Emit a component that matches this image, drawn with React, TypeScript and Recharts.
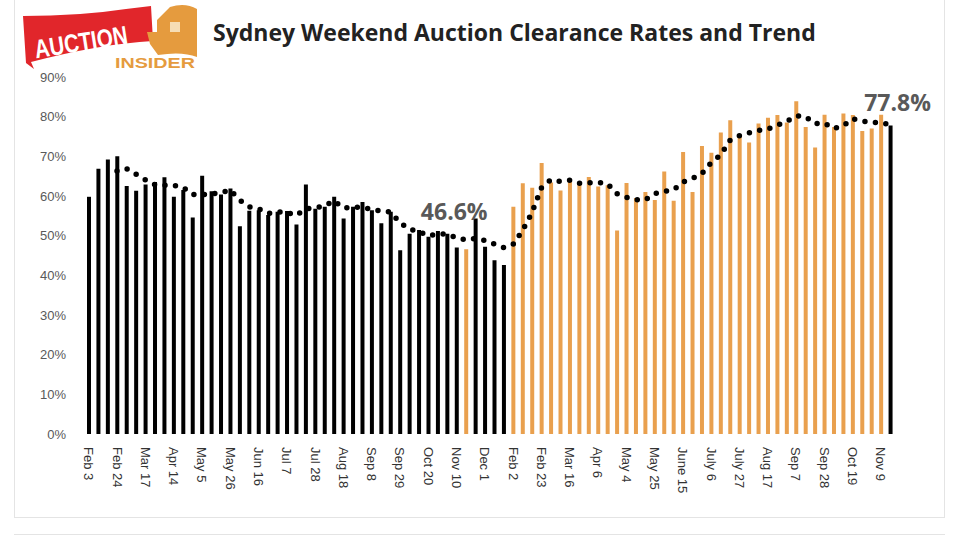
import React from 'react';
import { ComposedChart, Bar, Line, XAxis, YAxis, Cell, LabelList } from 'recharts';

// weekly result dates (two periods, Christmas/January break skipped)
const weeks = [
  'Feb 3', 'Feb 10', 'Feb 17', 'Feb 24', 'Mar 3', 'Mar 10', 'Mar 17', 'Mar 24', 'Apr 7', 'Apr 14',
  'Apr 21', 'Apr 28', 'May 5', 'May 12', 'May 19', 'May 26', 'Jun 2', 'Jun 9', 'Jun 16', 'Jun 23',
  'Jun 30', 'Jul 7', 'Jul 14', 'Jul 21', 'Jul 28', 'Aug 4', 'Aug 11', 'Aug 18', 'Aug 25', 'Sep 1',
  'Sep 8', 'Sep 15', 'Sep 22', 'Sep 29', 'Oct 6', 'Oct 13', 'Oct 20', 'Oct 27', 'Nov 3', 'Nov 10',
  'Nov 17', 'Nov 24', 'Dec 1', 'Dec 8', 'Dec 15', 'Feb 2', 'Feb 9', 'Feb 16', 'Feb 23', 'Mar 2',
  'Mar 9', 'Mar 16', 'Mar 23', 'Mar 30', 'Apr 6', 'Apr 19', 'Apr 26', 'May 4', 'May 11', 'May 18',
  'May 25', 'Jun 1', 'Jun 8', 'June 15', 'Jun 22', 'Jun 29', 'July 6', 'Jul 13', 'Jul 20', 'July 27',
  'Aug 3', 'Aug 10', 'Aug 17', 'Aug 24', 'Aug 31', 'Sep 7', 'Sep 14', 'Sep 21', 'Sep 28', 'Oct 5',
  'Oct 12', 'Oct 19', 'Oct 26', 'Nov 2', 'Nov 9', 'Nov 16',
];

// clearance rate, %
const clearance = [
  59.8, 66.9, 69.2, 70.0, 62.5, 61.3, 62.9, 63.5, 64.7, 59.8,
  61.5, 54.6, 65.1, 61.2, 60.4, 61.9, 52.4, 56.3, 56.4, 55.2,
  56.0, 56.2, 52.8, 62.9, 56.8, 57.3, 59.8, 54.3, 57.3, 58.5,
  56.4, 53.1, 56.0, 46.3, 50.5, 51.4, 49.7, 51.2, 50.5, 47.0,
  46.6, 54.3, 47.2, 43.8, 42.6, 57.3, 63.2, 62.1, 68.3, 63.4,
  61.4, 63.6, 63.5, 64.8, 62.4, 62.7, 51.3, 63.3, 59.5, 61.0,
  59.0, 66.2, 58.8, 71.1, 61.0, 72.6, 70.9, 76.0, 79.1, 75.4,
  73.5, 78.3, 79.7, 80.4, 78.5, 83.9, 77.4, 72.2, 80.5, 77.4,
  80.8, 80.4, 76.4, 77.0, 80.5, 77.8,
];

// moving-average trend, starts at the 4th week
const trend = [
  null, null, null,
  66.3, 66.9, 65.5, 64.1, 62.9, 62.7, 62.7, 62.2, 60.4, 60.3,
  60.5, 60.8, 61.5, 59.0, 57.3, 56.8, 55.6, 56.0, 55.9, 55.1,
  56.8, 57.0, 57.5, 58.8, 57.0, 57.1, 57.2, 56.6, 56.2, 56.0,
  53.3, 51.6, 51.1, 50.0, 50.4, 50.4, 49.5, 48.9, 49.3, 48.8,
  47.9, 47.0, 47.8, 51.3, 55.8, 62.0, 64.1, 63.7, 64.0, 63.2,
  63.3, 63.4, 63.1, 60.6, 59.7, 59.1, 59.0, 60.6, 61.2, 61.5,
  63.5, 64.4, 65.6, 68.4, 70.3, 74.0, 75.2, 75.9, 76.5, 76.9,
  77.8, 78.8, 80.2, 80.0, 78.2, 78.4, 77.0, 77.7, 79.5, 78.9,
  78.6, 78.5, 78.0,
];

const secondPeriodStart = 45;
const highlighted = [40, 85];
const yTicks = [0, 10, 20, 30, 40, 50, 60, 70, 80, 90];

const BLACK = '#000000';
const ORANGE = '#E9A04E';

const data = weeks.map((week, i) => ({ week, rate: clearance[i], trend: trend[i] }));

const barColor = (i: number) => {
  const firstPeriod = i < secondPeriodStart;
  return firstPeriod !== highlighted.includes(i) ? BLACK : ORANGE;
};

// label nudges for the two callouts
const calloutShift: Record<number, { dx: number; dy: number }> = {
  40: { dx: -12, dy: -29 },
  85: { dx: 7, dy: -14 },
};

const WeekTick = (props: any) => {
  const { x, y, payload } = props;
  return (
    <text
      x={x}
      y={y}
      transform={`rotate(90, ${x}, ${y})`}
      textAnchor="start"
      dominantBaseline="central"
      fontSize={13}
      fill="#333"
      fontFamily="'Liberation Sans', Arial, sans-serif"
    >
      {payload.value}
    </text>
  );
};

const Callout = (props: any) => {
  const { x, y, width, value, index } = props;
  if (!highlighted.includes(index)) return null;
  const s = calloutShift[index] || { dx: 0, dy: -10 };
  return (
    <text
      x={x + width / 2 + s.dx}
      y={y + s.dy}
      textAnchor="middle"
      fontSize={23}
      fontWeight={700}
      fill="#595959"
      fontFamily="'Open Sans', sans-serif"
    >
      {`${Number(value).toFixed(1)}%`}
    </text>
  );
};

const Logo = () => (
  <svg width={210} height={75} style={{ position: 'absolute', left: 0, top: 0 }}>
    <path d="M23 16 Q80 16 126 9 L151 6 L153 41 Q100 44 31 62 L34 69 L26 63 Z" fill="#E1262B" />
    <text
      x={81}
      y={51}
      transform="rotate(-9, 81, 42)"
      textAnchor="middle"
      fontSize={26}
      fontWeight={700}
      fill="#ffffff"
      fontFamily="'Liberation Sans', Arial, sans-serif"
      textLength={94}
      lengthAdjust="spacingAndGlyphs"
    >
      AUCTION
    </text>
    <path d="M147 32 L157 32 L157 20 L170 7 Q185 2 197 9 L197 57 Q182 51 158 55 L150 44 Z" fill="#E59B3E" />
    <rect x={170} y={22} width={10} height={10} fill="#F6DDB5" />
    <text
      x={155}
      y={68}
      textAnchor="middle"
      fontSize={14}
      fontWeight={700}
      fill="#E59B3E"
      fontFamily="'Liberation Sans', Arial, sans-serif"
      textLength={80}
      lengthAdjust="spacingAndGlyphs"
    >
      INSIDER
    </text>
  </svg>
);

export default function App() {
  return (
    <div style={{ position: 'absolute', left: 0, top: 0, width: 959, height: 537, background: '#fff', overflow: 'hidden' }}>
      <div
        style={{
          position: 'absolute',
          left: 14,
          top: -2,
          width: 931,
          height: 520,
          border: '1px solid #e4e4e4',
          boxSizing: 'border-box',
        }}
      />
      <div style={{ position: 'absolute', left: 14, top: 534, width: 931, height: 4, borderTop: '1px solid #e4e4e4' }} />
      <Logo />
      <div
        style={{
          position: 'absolute',
          left: 213,
          top: 16,
          fontFamily: "'Open Sans', sans-serif",
          fontWeight: 700,
          fontSize: 23,
          color: '#222',
          whiteSpace: 'nowrap',
        }}
      >
        Sydney Weekend Auction Clearance Rates and Trend
      </div>
      <div style={{ position: 'absolute', left: 0, top: 0 }}>
        <ComposedChart
          width={959}
          height={537}
          data={data}
          margin={{ top: 77, right: 64, bottom: 0, left: 0 }}
          barCategoryGap="50%"
        >
          <XAxis
            dataKey="week"
            interval={2}
            axisLine={false}
            tickLine={false}
            tickSize={0}
            tickMargin={13}
            height={103}
            tick={<WeekTick />}
          />
          <YAxis
            domain={[0, 90]}
            ticks={yTicks}
            width={84}
            axisLine={false}
            tickLine={false}
            tickMargin={12}
            tickFormatter={(v: number) => `${v}%`}
            tick={{ fontSize: 13, fill: '#595959', fontFamily: "'Liberation Sans', Arial, sans-serif" }}
          />
          <Bar dataKey="rate" barSize={4} isAnimationActive={false}>
            {data.map((d, i) => (
              <Cell key={d.week + i} fill={barColor(i)} />
            ))}
            <LabelList dataKey="rate" content={<Callout />} />
          </Bar>
          <Line
            dataKey="trend"
            type="linear"
            stroke="#000"
            strokeWidth={5.5}
            strokeDasharray="0 10.5"
            strokeLinecap="round"
            dot={false}
            activeDot={false}
            isAnimationActive={false}
          />
        </ComposedChart>
      </div>
    </div>
  );
}
